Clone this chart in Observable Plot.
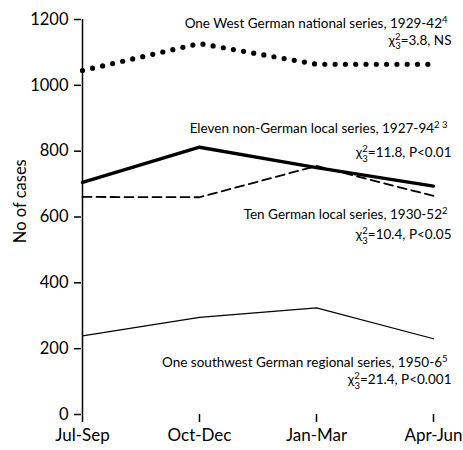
<!DOCTYPE html>
<html>
<head>
<meta charset="utf-8">
<script src="https://cdn.jsdelivr.net/npm/d3@7"></script>
<script src="https://cdn.jsdelivr.net/npm/@observablehq/plot@0.6"></script>
<style>
  html, body { margin: 0; padding: 0; background: white; }
</style>
</head>
<body>
<div id="chart"></div>
<script>
// ---- data ----
const seasons = ["Jul-Sep", "Oct-Dec", "Jan-Mar", "Apr-Jun"];
const national = [1045, 1127, 1064, 1064];
const nonGerman = [705, 812, 750, 694];
const germanLocal = [661, 660, 755, 664];
const southwest = [239, 295, 324, 230];
const yTicks = [0, 200, 400, 600, 800, 1000, 1200];
const seriesNames = [
  "One West German national series, 1929-42",
  "Eleven non-German local series, 1927-94",
  "Ten German local series, 1930-52",
  "One southwest German regional series, 1950-6"
];
const seriesRefs = ["4", "2 3", "2", "5"];
const chiStats = ["=3.8, NS", "=11.8, P<0.01", "=10.4, P<0.05", "=21.4, P<0.001"];
const yLabel = "No of cases";

// ---- layout (annotation anchors in data units) ----
const nameAt = [1174, 856, 595, 144];
const statAt = [1124, 782, 533, 92];

const rows = arr => seasons.map((s, i) => ({season: s, value: arr[i]}));
const idx = d3.range(seriesNames.length);

function addRefs(index, scales, values, dims, ctx, next) {
  const g = next(index, scales, values, dims, ctx);
  d3.select(g).selectAll("text").each(function () {
    const i = d3.select(this).datum();
    d3.select(this).append("tspan").attr("dy", -5).attr("font-size", 9.5).text(seriesRefs[i]);
  });
  return g;
}
function addChi(index, scales, values, dims, ctx, next) {
  const g = next(index, scales, values, dims, ctx);
  d3.select(g).selectAll("text").each(function () {
    const i = d3.select(this).datum();
    const t = d3.select(this);
    t.append("tspan").attr("dy", -5).attr("font-size", 9.5).text("2");
    t.append("tspan").attr("dx", -5.3).attr("dy", 9.5).attr("font-size", 9.5).text("3");
    t.append("tspan").attr("dy", -4.5).text(chiStats[i]);
  });
  return g;
}

const chart = Plot.plot({
  width: 463,
  height: 450,
  marginLeft: 81,
  marginRight: 30,
  marginTop: 19,
  marginBottom: 36,
  x: {type: "point", domain: seasons, padding: 0},
  y: {domain: [0, 1200]},
  style: {fontFamily: "Lato, 'Open Sans', sans-serif", color: "black", background: "white"},
  marks: [
    Plot.axisY(yTicks, {tickSize: 7, tickPadding: 6, fontSize: 16.5, label: null, strokeWidth: 1.5,
      tickFormat: d => String(d)}),
    Plot.axisX(seasons, {tickSize: 8, tickPadding: 6, fontSize: 17, label: null, strokeWidth: 1.5}),
    Plot.ruleX([seasons[0]], {y1: 0, y2: 1200, strokeWidth: 1.5}),
    Plot.ruleY([0], {x1: seasons[0], x2: seasons[seasons.length - 1], strokeWidth: 1.5}),
    Plot.line(rows(national), {x: "season", y: "value", stroke: "black", strokeWidth: 5.2,
      strokeDasharray: "0 10.3", strokeLinecap: "round"}),
    Plot.line(rows(nonGerman), {x: "season", y: "value", stroke: "black", strokeWidth: 3.4}),
    Plot.line(rows(germanLocal), {x: "season", y: "value", stroke: "black", strokeWidth: 1.8,
      strokeDasharray: "9 5"}),
    Plot.line(rows(southwest), {x: "season", y: "value", stroke: "black", strokeWidth: 1.2}),
    Plot.text(idx, {x: () => seasons[3], y: i => nameAt[i], text: i => seriesNames[i],
      textAnchor: "end", lineAnchor: "bottom", dx: 14, fontSize: 13.5, render: addRefs}),
    Plot.text(idx, {x: () => seasons[3], y: i => statAt[i], text: () => "χ",
      textAnchor: "end", lineAnchor: "bottom", dx: 18, fontSize: 13.5, render: addChi}),
    Plot.text([yLabel], {frameAnchor: "left", y: () => 648, dx: -61, rotate: -90,
      fontSize: 16.5, textAnchor: "middle", lineAnchor: "middle"})
  ]
});
document.getElementById("chart").appendChild(chart);
</script>
</body>
</html>
